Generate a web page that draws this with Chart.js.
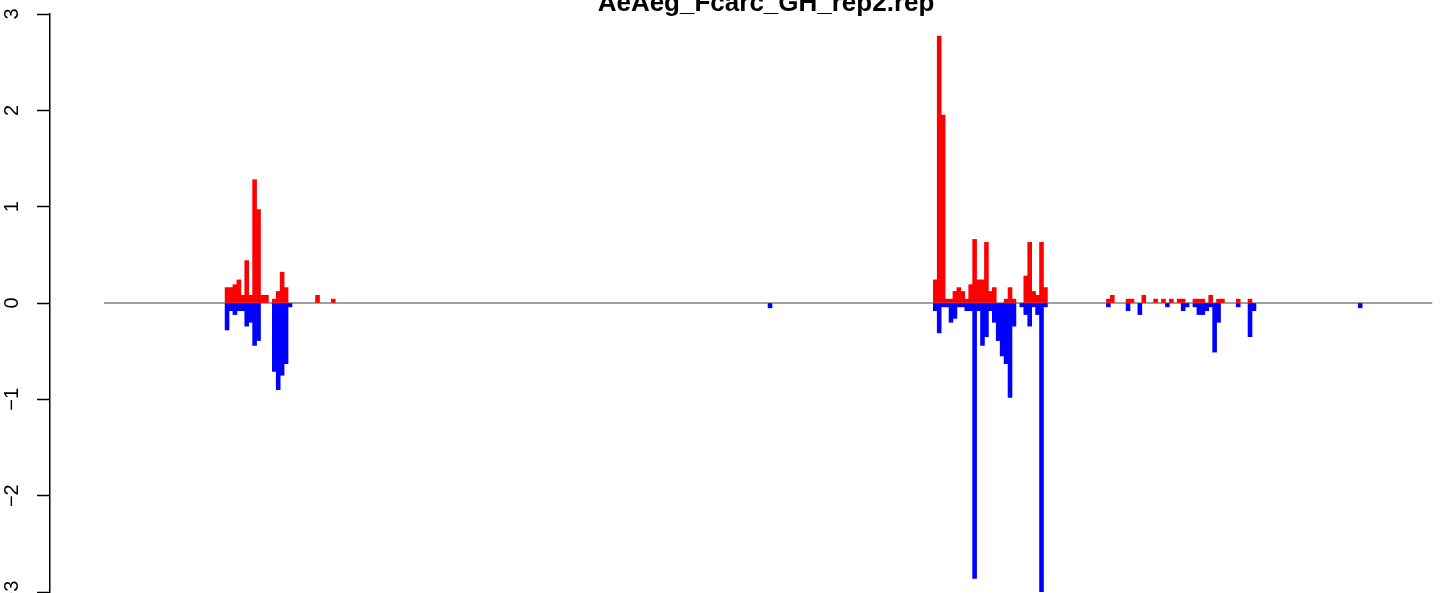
<!DOCTYPE html>
<html>
<head>
<meta charset="utf-8">
<script src="https://cdn.jsdelivr.net/npm/chart.js@4"></script>
<style>
  html, body { margin: 0; padding: 0; background: #fff; }
  #wrap { width: 1444px; height: 593px; position: relative; }
</style>
</head>
<body>
<div id="wrap"><canvas id="grafico"></canvas></div>
<script>
const tituloGrafico = 'AeAeg_Fcarc_GH_rep2.rep';
const yTicks = [-3, -2, -1, 0, 1, 2, 3];

// bloco 1 (começa no bin 30)
const inicioA = 30;
const cimaA = [0.16, 0.16, 0.19, 0.24, 0.08, 0.44, 0.08, 1.28, 0.97, 0.08, 0.08, 0, 0.04, 0.12, 0.32, 0.16, 0];
const baixoA = [-0.28, -0.08, -0.12, -0.08, -0.08, -0.24, -0.2, -0.44, -0.39, 0, 0, 0, -0.71, -0.9, -0.75, -0.63, -0.04];

// bloco 2 (começa no bin 210)
const inicioB = 210;
const cimaB = [0.24, 2.77, 1.95, 0.04, 0.04, 0.12, 0.16, 0.12, 0.04, 0.19, 0.66, 0.24, 0.24, 0.63, 0.12, 0.16, 0, 0, 0.04, 0.16, 0.04, 0, 0, 0.28, 0.63, 0.12, 0.08, 0.63, 0.16];
const baixoB = [-0.08, -0.31, -0.04, -0.04, -0.2, -0.16, -0.04, -0.04, -0.08, -0.08, -2.86, -0.08, -0.44, -0.35, -0.08, -0.2, -0.39, -0.55, -0.63, -0.98, -0.24, 0, -0.04, -0.12, -0.24, -0.04, -0.12, -3.0, -0.04];

// bloco 3 (começa no bin 254)
const inicioC = 254;
const cimaC = [0.04, 0.08, 0, 0, 0, 0.04, 0.04, 0, 0, 0.08, 0, 0, 0.04, 0, 0.04, 0, 0.04, 0, 0.04, 0.04, 0, 0, 0.04, 0.04, 0.04, 0, 0.08, 0, 0.04, 0.04, 0, 0, 0, 0.04, 0, 0, 0.04, 0];
const baixoC = [-0.04, 0, 0, 0, 0, -0.08, 0, 0, -0.12, 0, 0, 0, 0, 0, 0, -0.04, 0, 0, 0, -0.08, -0.04, 0, -0.04, -0.12, -0.12, -0.08, -0.04, -0.51, -0.2, 0, 0, 0, 0, -0.04, 0, 0, -0.35, -0.08];

// bins soltos
const binsSoltos = [53, 57, 168, 318];
const cimaSoltos = [0.08, 0.04, 0, 0];
const baixoSoltos = [0, 0, -0.05, -0.05];

// faixa da linha do zero e limites do eixo x (em bins)
const linhaZero = [-1.3, 336.3];
const xMin = -15;
const xMax = 339.3;

function montarPontos(inicio, valores) {
  return valores
    .map((v, i) => ({ x: inicio + i, y: v }))
    .filter(p => p.y !== 0);
}

const pontosCima = [
  ...montarPontos(inicioA, cimaA),
  ...montarPontos(inicioB, cimaB),
  ...montarPontos(inicioC, cimaC),
  ...binsSoltos.map((b, i) => ({ x: b, y: cimaSoltos[i] })).filter(p => p.y !== 0)
];

const pontosBaixo = [
  ...montarPontos(inicioA, baixoA),
  ...montarPontos(inicioB, baixoB),
  ...montarPontos(inicioC, baixoC),
  ...binsSoltos.map((b, i) => ({ x: b, y: baixoSoltos[i] })).filter(p => p.y !== 0)
];

const pluginTitulo = {
  id: 'tituloTopo',
  afterDraw(chart) {
    const ctx = chart.ctx;
    ctx.save();
    ctx.font = 'bold 26px "Liberation Sans", Arial, sans-serif';
    ctx.fillStyle = '#000';
    ctx.textAlign = 'center';
    ctx.textBaseline = 'alphabetic';
    ctx.fillText(tituloGrafico, 766, 11);
    ctx.restore();
  }
};

const ctx = document.getElementById('grafico').getContext('2d');

new Chart(ctx, {
  type: 'bar',
  data: {
    datasets: [
      {
        data: pontosCima,
        backgroundColor: '#ff0000',
        borderWidth: 0,
        grouped: false,
        barPercentage: 1,
        categoryPercentage: 1
      },
      {
        data: pontosBaixo,
        backgroundColor: '#0000ff',
        borderWidth: 0,
        grouped: false,
        barPercentage: 1,
        categoryPercentage: 1
      },
      {
        type: 'line',
        data: [{ x: linhaZero[0], y: 0 }, { x: linhaZero[1], y: 0 }],
        borderColor: '#a0a0a0',
        borderWidth: 2,
        pointRadius: 0,
        fill: false
      }
    ]
  },
  options: {
    responsive: true,
    maintainAspectRatio: false,
    animation: false,
    layout: { padding: { top: 14, bottom: 1, left: 0, right: 0 } },
    plugins: {
      legend: { display: false },
      tooltip: { enabled: false },
      title: { display: false }
    },
    scales: {
      x: {
        type: 'linear',
        display: false,
        offset: false,
        min: xMin,
        max: xMax,
        grid: { offset: false }
      },
      y: {
        min: -3,
        max: 3,
        afterBuildTicks: scale => { scale.ticks = yTicks.map(v => ({ value: v })); },
        afterFit: scale => {
          scale.width = 50;
          scale.paddingTop = 0;
          scale.paddingBottom = 0;
        },
        border: { display: true, color: '#000', width: 1.5 },
        grid: {
          drawOnChartArea: false,
          drawTicks: true,
          tickLength: 13,
          tickColor: '#000',
          tickWidth: 1.5
        },
        ticks: {
          minRotation: 90,
          maxRotation: 90,
          crossAlign: 'center',
          padding: 13,
          color: '#000',
          font: { family: '"Liberation Sans", Arial, sans-serif', size: 20 },
          callback: v => (v < 0 ? '\u2212' + Math.abs(v) : String(v))
        }
      }
    }
  },
  plugins: [pluginTitulo]
});
</script>
</body>
</html>
